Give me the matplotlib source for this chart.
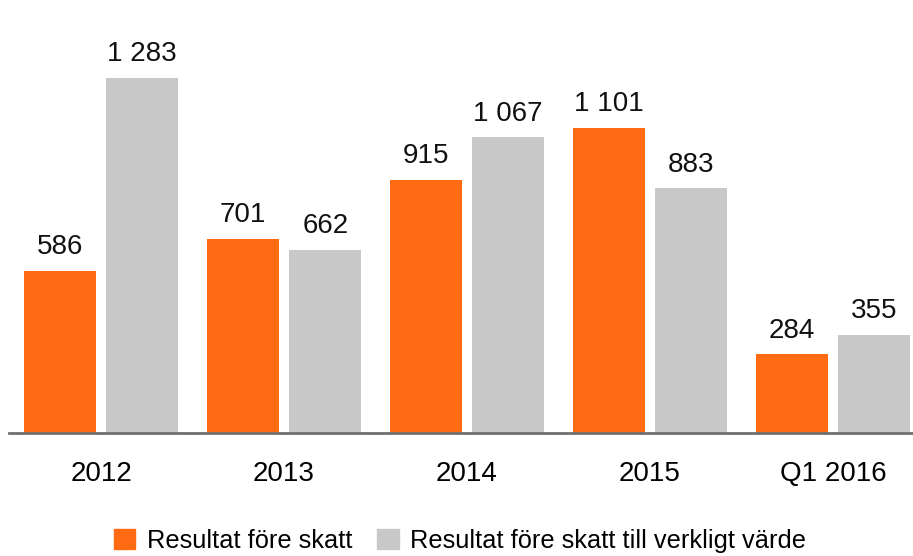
import numpy as np
import matplotlib
matplotlib.use("Agg")
import matplotlib.pyplot as plt
from matplotlib.patches import Patch

categories = ["2012", "2013", "2014", "2015", "Q1 2016"]
resultat = [586, 701, 915, 1101, 284]
verkligt = [1283, 662, 1067, 883, 355]
series_names = ["Resultat före skatt", "Resultat före skatt till verkligt värde"]

ORANGE = "#FF6A13"
GRAY = "#C8C8C8"

plt.rcParams['font.family'] = ['Liberation Sans', 'DejaVu Sans']


def fmt(v):
    return f"{v:,}".replace(",", " ")


fig = plt.figure(figsize=(9.13, 5.56), dpi=100)
ax = fig.add_axes([9 / 913, 123 / 556, 904 / 913, 433 / 556])

x = np.arange(len(categories))
w = 0.395
off = 0.225
b1 = ax.bar(x - off, resultat, w, color=ORANGE)
b2 = ax.bar(x + off, verkligt, w, color=GRAY)

for bars, vals in ((b1, resultat), (b2, verkligt)):
    for rect, v in zip(bars, vals):
        ax.text(rect.get_x() + rect.get_width() / 2, v + 38, fmt(v),
                ha="center", va="bottom", fontsize=20, color="#111111")

ax.set_xlim(-0.503, 4.437)
ax.set_ylim(0, 1563)
ax.set_xticks(x)
ax.set_xticklabels(categories, fontsize=20)
ax.tick_params(axis="x", length=0, pad=20)
ax.set_yticks([])
for s in ["top", "right", "left"]:
    ax.spines[s].set_visible(False)
ax.spines["bottom"].set_color("#707070")
ax.spines["bottom"].set_linewidth(2)

handles = [Patch(color=ORANGE), Patch(color=GRAY)]
fig.legend(handles, series_names, loc="center", bbox_to_anchor=(460 / 913, 1 - 541 / 556),
           ncol=2, frameon=False, fontsize=18.3, handlelength=0.85, handleheight=0.85,
           handletextpad=0.45, columnspacing=1.0, borderpad=0)

fig.savefig("out.png", dpi=100)
